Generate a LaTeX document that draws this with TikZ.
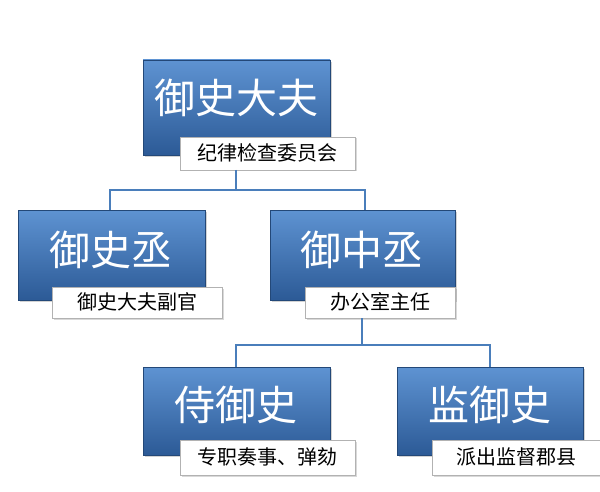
\documentclass[tikz,border=0pt]{standalone}
\usepackage{fontspec}
\newfontfamily\cjk{Noto Sans CJK SC}
\usetikzlibrary{shadows}
\definecolor{btop}{HTML}{5E93D2}
\definecolor{bbot}{HTML}{2C5A96}
\definecolor{ln}{HTML}{4A7EBB}
\begin{document}
\begin{tikzpicture}[x=1pt,y=-1pt,
  box/.style={draw=bbot!80!black,line width=0.6pt,top color=btop,bottom color=bbot,drop shadow={opacity=0.35,shadow xshift=2pt,shadow yshift=-2pt}},
  lab/.style={draw=gray!60,fill=white,line width=0.6pt,drop shadow={opacity=0.3,shadow xshift=1.5pt,shadow yshift=-1.5pt}},
  big/.style={text=white,font=\cjk\fontsize{41}{41}\selectfont},
  small/.style={text=black,font=\cjk\fontsize{20}{20}\selectfont},
  con/.style={draw=ln,line width=1.3pt}]
\useasboundingbox (0,0) rectangle (600,492);
% boxes
\path[box] (143,60) rectangle (330,155); \node[big] (t) at (236,98) {御史大夫};
\path[lab] (180,137) rectangle (355,170); \node[small] (tl) at (267,153) {纪律检查委员会};
\path[box] (18,210) rectangle (205,300); \node[big] (a) at (111,250) {御史丞};
\path[lab] (52,287) rectangle (222,318); \node[small] (al) at (137,302) {御史大夫副官};
\path[box] (270,210) rectangle (455,300); \node[big] (b) at (362,250) {御中丞};
\path[lab] (305,287) rectangle (455,318); \node[small] (bl) at (380,302) {办公室主任};
\path[box] (143,367) rectangle (330,455); \node[big] (c) at (236,405) {侍御史};
\path[lab] (180,440) rectangle (355,475); \node[small] (cl) at (267,457) {专职奏事、弹劾};
\path[box] (397,367) rectangle (583,455); \node[big] (d) at (490,405) {监御史};
\path[lab] (432,440) rectangle (600,475); \node[small] (dl) at (516,457) {派出监督郡县};
% connectors
\coordinate (j1) at (236,190);
\coordinate (j2) at (362,345);
\draw[con] (236,170) -- (j1) (110,210) -- (110,190) -- (365,190) -- (365,210);
\draw[con] (362,318) -- (j2) (236,367) -- (236,345) -- (490,345) -- (490,367);
\end{tikzpicture}
\end{document}
